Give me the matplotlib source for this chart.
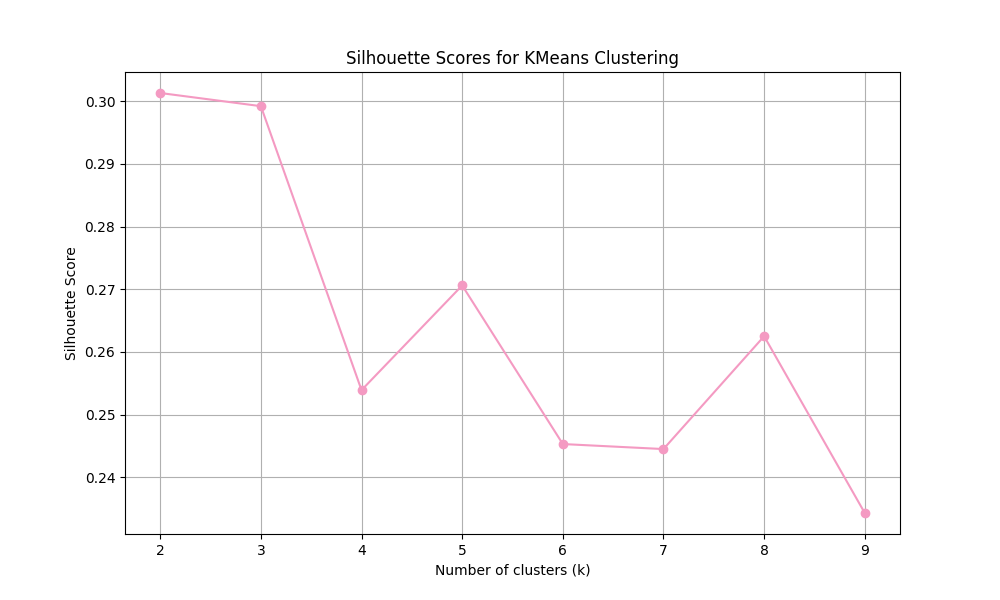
import matplotlib
matplotlib.use("Agg")
import matplotlib.pyplot as plt

k_values = [2, 3, 4, 5, 6, 7, 8, 9]
scores = [0.3013, 0.2992, 0.2539, 0.2706, 0.2453, 0.2445, 0.2625, 0.2343]

plt.figure(figsize=(10, 6))
plt.plot(k_values, scores, marker='o', color='#f49ac2')
plt.title('Silhouette Scores for KMeans Clustering')
plt.xlabel('Number of clusters (k)')
plt.ylabel('Silhouette Score')
plt.grid(True)
plt.savefig('out.png', dpi=100)
